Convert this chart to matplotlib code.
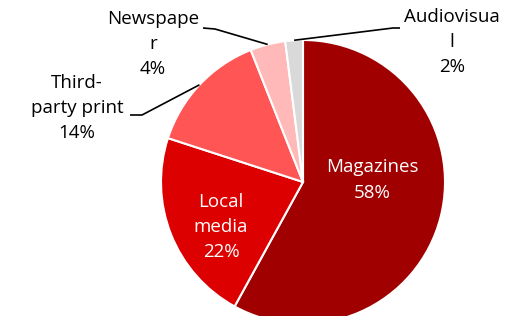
"""Media mix pie chart (share of spend by channel)."""
import numpy as np
import matplotlib

matplotlib.use("Agg")
import matplotlib.pyplot as plt

W, H = 513, 316

categories = ["Magazines", "Local media", "Third-party print", "Newspaper", "Audiovisual"]
shares = [58, 22, 14, 4, 2]
label_text = ["Magazines", "Local\nmedia", "Third-\nparty print", "Newspape\nr", "Audiovisua\nl"]
colors = ["#A00000", "#DD0000", "#FF5555", "#FFB9B9", "#D9D9D9"]

# label layout in pixel coords (x, y from top)
inside = {"Magazines": (372, 180), "Local media": (221, 227)}
outside = {
    "Third-party print": {"text": (77, 108), "line": [(142, 115), (130, 115)]},
    "Newspaper": {"text": (153, 44), "line": [(215, 29), (203, 28)]},
    "Audiovisual": {"text": (452, 42), "line": [(393, 28), (400, 28)]},
}

plt.rcParams["font.family"] = ["Open Sans", "DejaVu Sans"]

fig = plt.figure(figsize=(W / 100, H / 100), dpi=100)
ax = fig.add_axes([0, 0, 1, 1])

cx, cy, r = 303, H - 182, 142
wedges, _ = ax.pie(
    shares, colors=colors, startangle=90, counterclock=False,
    center=(cx, cy), radius=r, frame=True,
    wedgeprops=dict(edgecolor="white", linewidth=1.5),
)
ax.set_xlim(0, W)
ax.set_ylim(0, H)
ax.axis("off")

for cat, txt, val, w in zip(categories, label_text, shares, wedges):
    s = f"{txt}\n{val}%"
    if cat in inside:
        x, y = inside[cat]
        ax.text(x, H - y, s, ha="center", va="center", color="white",
                fontsize=13.5, linespacing=1.5)
    else:
        spec = outside[cat]
        x, y = spec["text"]
        ax.text(x, H - y, s, ha="center", va="center", color="black",
                fontsize=13.5, linespacing=1.5)
        ang = np.deg2rad((w.theta1 + w.theta2) / 2)
        pts = [(cx + r * np.cos(ang), cy + r * np.sin(ang))]
        pts += [(px, H - py) for px, py in spec["line"]]
        xs, ys = zip(*pts)
        ax.plot(xs, ys, color="black", lw=1.2, solid_capstyle="butt")

fig.savefig("out.png", dpi=100)
